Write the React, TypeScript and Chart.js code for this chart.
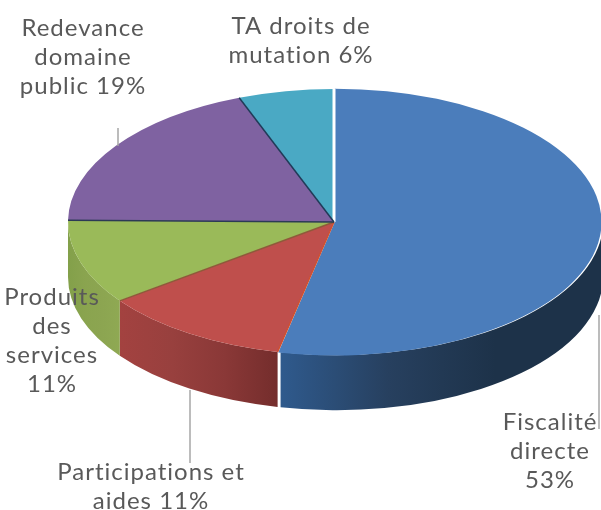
import React, { useEffect, useRef } from "react";
import { Chart, registerables } from "chart.js";

Chart.register(...registerables);

const categories = ["Fiscalité directe", "Participations et aides", "Produits des services", "Redevance domaine public", "TA droits de mutation"];
const values = [53.4, 11.5, 10.3, 19, 5.8];
const labelLines = [
  ["Fiscalité", "directe", "53%"],
  ["Participations et", "aides 11%"],
  ["Produits", "des", "services", "11%"],
  ["Redevance", "domaine", "public 19%"],
  ["TA droits de", "mutation 6%"],
];
const topColors = ["#4b7dbb", "#bf4f4c", "#9aba59", "#7f62a1", "#4aa9c4"];
const wallStops = [
  ["#2f5a8d", "#27405f", "#1d3249", "#1d3249"],
  ["#a34240", "#98403e", "#8a3837", "#742d2c"],
  ["#83a04a", "#8aa44f", "#8ca551", "#8fa953"],
  ["#666", "#666", "#666", "#666"],
  ["#666", "#666", "#666", "#666"],
];
const seamColors = ["#ffffff", "#d0502f", "#8f5a3a", "#2c3a55", "#203a58"];
const offsets = [3, 0, 0, 0, 0];

const labelCenterX = [550, 151, 52, 83, 301];
const labelFirstBaseline = [430, 480, 305, 36, 34];
const leaderLines = [
  [599, 315, 599, 429],
  [190, 390, 190, 463],
  [118, 128, 118, 146],
];

const SQUASH = 0.5;
const DEPTH = 55;

const pie3d = {
  id: "pie3d",
  beforeDatasetsDraw(chart: any) {
    const ctx = chart.ctx;
    const arcs = chart.getDatasetMeta(0).data;
    // side wall
    arcs.forEach((arc: any, i: number) => {
      const a0 = Math.max(arc.startAngle, 0);
      const a1 = Math.min(arc.endAngle, Math.PI);
      if (a1 <= a0) return;
      const mid = (arc.startAngle + arc.endAngle) / 2;
      const off = offsets[i];
      const cx = arc.x + Math.cos(mid) * off;
      const cy = arc.y + Math.sin(mid) * off * SQUASH;
      const rx = arc.outerRadius;
      const ry = rx * SQUASH;
      const xa = cx + Math.cos(a0) * rx;
      const xb = cx + Math.cos(a1) * rx;
      const g = ctx.createLinearGradient(Math.min(xa, xb), 0, Math.max(xa, xb), 0);
      const stops = wallStops[i];
      stops.forEach((c, k) => g.addColorStop(k / (stops.length - 1), c));
      ctx.save();
      ctx.beginPath();
      ctx.ellipse(cx, cy, rx, ry, 0, a0, a1, false);
      ctx.ellipse(cx, cy + DEPTH, rx, ry, 0, a1, a0, true);
      ctx.closePath();
      ctx.fillStyle = g;
      ctx.fill();
      ctx.restore();
    });
    // squash the library's own arcs into an ellipse
    const { x, y } = arcs[0];
    ctx.save();
    ctx.translate(x, y);
    ctx.scale(1, SQUASH);
    ctx.translate(-x, -y);
  },
  afterDatasetsDraw(chart: any) {
    const ctx = chart.ctx;
    ctx.restore();
    const arcs = chart.getDatasetMeta(0).data;
    // seams between slices
    arcs.forEach((arc: any, i: number) => {
      const r = arc.outerRadius;
      ctx.save();
      ctx.beginPath();
      ctx.moveTo(arc.x, arc.y);
      ctx.lineTo(arc.x + Math.cos(arc.startAngle) * r, arc.y + Math.sin(arc.startAngle) * r * SQUASH);
      ctx.strokeStyle = seamColors[i];
      ctx.lineWidth = i === 0 ? 3 : 1.5;
      ctx.stroke();
      ctx.restore();
    });
    // leader lines
    ctx.save();
    ctx.strokeStyle = "#a6a6a6";
    ctx.lineWidth = 1.5;
    leaderLines.forEach(([x1, y1, x2, y2]) => {
      ctx.beginPath();
      ctx.moveTo(x1, y1);
      ctx.lineTo(x2, y2);
      ctx.stroke();
    });
    // labels
    ctx.fillStyle = "#595959";
    ctx.font = "24px 'Lato'";
    ctx.textAlign = "center";
    ctx.textBaseline = "alphabetic";
    (ctx as any).letterSpacing = "1px";
    labelLines.forEach((lines, i) => {
      lines.forEach((t, k) => ctx.fillText(t, labelCenterX[i], labelFirstBaseline[i] + k * 29));
    });
    ctx.restore();
  },
};

export default function App() {
  const ref = useRef<HTMLCanvasElement>(null);
  useEffect(() => {
    document.body.style.margin = "0";
    const chart = new Chart(ref.current!, {
      type: "pie",
      data: {
        labels: categories,
        datasets: [{ data: values, backgroundColor: topColors, borderWidth: 0, offset: offsets }],
      },
      options: {
        responsive: false,
        animation: false,
        radius: 266,
        layout: { padding: { left: 67, bottom: 66 } },
        plugins: { legend: { display: false }, tooltip: { enabled: false }, title: { display: false } },
      },
      plugins: [pie3d],
    } as any);
    return () => chart.destroy();
  }, []);
  return <canvas ref={ref} width={601} height={510} style={{ display: "block" }} />;
}
